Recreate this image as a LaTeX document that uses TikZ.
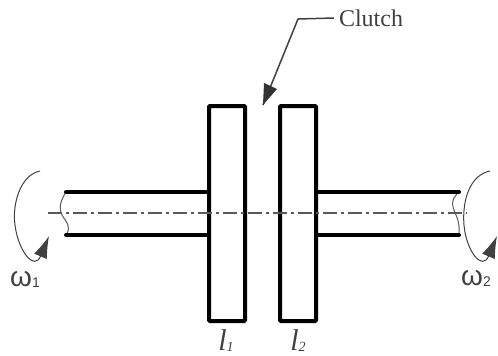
\documentclass[tikz,border=0pt]{standalone}
\usepackage{fontspec}
\setmainfont{Liberation Serif}
\setsansfont{Liberation Sans}
\usetikzlibrary{arrows.meta, calc}
\tikzset{
  disco/.style={
    draw, line width=4pt, rounded corners=1pt, minimum width=36pt, minimum height=215pt,
    inner sep=0pt, fill=white
  },
  eixo/.style={line width=4pt, line cap=round},
  quebra/.style={line width=1pt, gray!70!black},
  centro/.style={line width=1.3pt, gray!70!black, dash pattern=on 14pt off 4pt on 3pt off 4pt},
  giro/.style={line width=1pt, black!75, -{Latex[length=22pt,width=14pt]}},
  seta/.style={line width=1.5pt, black!75},
  rotulo/.style={inner sep=0pt, text=black!75},
}
\begin{document}
\begin{tikzpicture}[x=1pt, y=-1pt]

\useasboundingbox (0,0) rectangle (498,356);

\coordinate (eixoLA) at (66,192);
\coordinate (eixoLB) at (66,235);
\coordinate (eixoRA) at (459,192);
\coordinate (eixoRB) at (459,235);
\coordinate (centroL) at (48,213);
\coordinate (centroR) at (467,213);

% shafts and center line
\draw[quebra] (eixoLA) .. controls (58,205) and (60,210) .. (62,215)
  .. controls (66,222) and (72,226) .. (eixoLB);
\draw[quebra] (eixoRA) .. controls (450,200) and (452,206) .. (456,215)
  .. controls (460,224) and (459,230) .. (eixoRB);

\node[disco] (discoL) at (227,213.5) {};
\node[disco] (discoR) at (298,213.5) {};

\draw[eixo] (eixoLA) -- (eixoLA -| discoL.west);
\draw[eixo] (eixoLB) -- (eixoLB -| discoL.west);
\draw[eixo] (eixoRA) -- (eixoRA -| discoR.east);
\draw[eixo] (eixoRB) -- (eixoRB -| discoR.east);
\draw[centro] (centroL) -- (centroR);

\node[rotulo, font=\fontsize{24pt}{24pt}\selectfont] (clutch) at (371,18) {Clutch};
\coordinate (joelho) at (298,19);
\coordinate (ponta) at (263,105);
\draw[seta] (clutch.west) ++(-5,0) -- (joelho) -- (ponta);
\fill[black!80] (ponta) -- (264,83) -- (277,89) -- cycle;

% rotation arrows
\coordinate (giroLA) at (40,171);
\coordinate (giroLB) at (49,236);
\coordinate (giroRA) at (490,171);
\coordinate (giroRB) at (497,236);
\draw[giro] (giroLA) .. controls (20,175) and (12,205) .. (15,225)
  .. controls (18,250) and (34,272) .. (giroLB);
\draw[giro] (giroRA) .. controls (470,175) and (462,200) .. (464,225)
  .. controls (466,250) and (482,272) .. (giroRB);

\node[rotulo, font=\sffamily\fontsize{28pt}{28pt}\selectfont] (omegaL) at (25,279)
  {ω\raisebox{-1pt}{\fontsize{14pt}{14pt}\selectfont 1}};
\node[rotulo, font=\sffamily\fontsize{28pt}{28pt}\selectfont] (omegaR) at (476,278)
  {ω\raisebox{-1pt}{\fontsize{14pt}{14pt}\selectfont 2}};

\node[rotulo, font=\itshape\fontsize{30pt}{30pt}\selectfont] (inerciaL) at (226,341)
  {l\raisebox{-1pt}{\fontsize{14pt}{14pt}\selectfont 1}};
\node[rotulo, font=\itshape\fontsize{30pt}{30pt}\selectfont] (inerciaR) at (298,341)
  {l\raisebox{-1pt}{\fontsize{14pt}{14pt}\selectfont 2}};

\end{tikzpicture}
\end{document}
